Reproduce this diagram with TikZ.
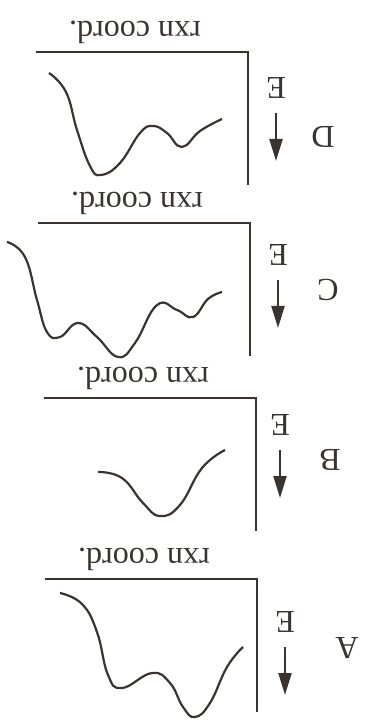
\documentclass[tikz,border=0pt]{standalone}
\usepackage{fontspec}
\setmainfont{Liberation Serif}
\usetikzlibrary{arrows.meta}
\definecolor{ink}{RGB}{58,52,48}

\begin{document}
\begin{tikzpicture}[x=0.5pt,y=-0.5pt,ink,line width=1.1pt,
  lbl/.style={rotate=180,font=\fontsize{16}{19}\selectfont,text=ink,inner sep=0pt},
  pes/.style={line width=1.1pt,smooth,tension=0.75},
  earrow/.style={-{Triangle[length=11pt,width=6.5pt]}}]
\useasboundingbox (0,0) rectangle (368,726);
\foreach \p/\cx/\cy/\ex/\ey/\lx/\ly in %
{D/248/52/276/88/323/137,C/250/223/278/255/328/290,B/256/398/280/425/330/460,A/257/579/285/622/347/648} {
   \coordinate (o\p) at (\cx,\cy);
   \coordinate (h\p) at (\cx-212,\cy);
   \coordinate (v\p) at (\cx,\cy+133);
   \draw (h\p) -- (o\p) -- (v\p);
   \node[lbl] (rc\p) at (\cx-113,\cy-20) {rxn coord.};
   \node[lbl] (e\p) at (\ex,\ey) {E};
   \coordinate (at\p) at (\ex,\ey+25);
   \coordinate (ab\p) at (\ex,\ey+73);
   \draw[earrow] (at\p) -- (ab\p);
   \node[lbl] (n\p) at (\lx,\ly) {\p};
}
\draw[pes] plot coordinates {(49,73) (66,92) (77,130) (90,166) (101,175)
   (120,163) (140,133) (153,126) (167,133) (182,147) (200,131) (222,119)};
\draw[pes] plot coordinates {(7,242) (25,257) (37,300) (47,332) (60,337)
   (78,323) (97,337) (118,357) (135,343) (157,305) (177,310) (193,317) (208,299) (222,292)};
\draw[pes] plot coordinates {(98,472) (122,478) (143,503) (160,516) (180,505)
   (202,468) (225,450)};
\draw[pes] plot coordinates {(60,593) (82,604) (97,632) (108,675) (122,688)
   (152,673) (170,683) (183,707) (195,717) (210,703) (227,667) (243,647)};
\end{tikzpicture}
\end{document}
